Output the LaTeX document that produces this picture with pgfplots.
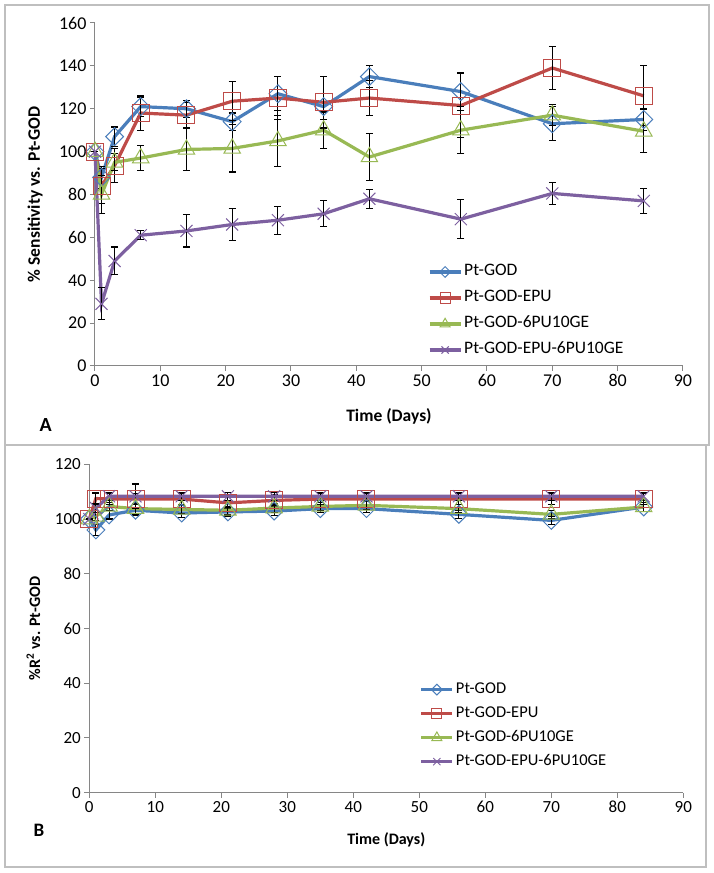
\documentclass[border=0pt]{standalone}
\usepackage{fontspec}
\setmainfont{Carlito}
\usepackage{pgfplots}
\pgfplotsset{compat=1.18}
\definecolor{cblue}{HTML}{4A7EBB}
\definecolor{cred}{HTML}{BE4B48}
\definecolor{cgreen}{HTML}{98B954}
\definecolor{cpurple}{HTML}{7D60A0}
\definecolor{axgray}{HTML}{868686}
\definecolor{framegray}{HTML}{BFBFBF}

\pgfplotsset{
  excel/.style={
    scale only axis, xmin=0, xmax=90, xtick distance=10, ymin=0,
    axis x line=bottom, axis y line=left,
    axis line style={-, draw=axgray, line width=1pt},
    tick align=outside, major tick length=5pt,
    tick style={draw=axgray, line width=1pt},
    /pgf/number format/assume math mode=true,
    clip=false,
    legend cell align=left,
    error bars/y dir=both, error bars/y explicit,
    error bars/error bar style={black, line width=1.1pt, solid},
    error bars/error mark options={black, line width=1.1pt, mark size=3.5pt, rotate=90},
    legend image code/.code={\draw[/tikz/every mark/.append style={scale=0.6}, mark repeat=2, mark phase=2] plot coordinates {(0pt,0pt)(15.5pt,0pt)(31pt,0pt)};},
  },
  sblue/.style={color=cblue, line width=3.2pt, mark=square, mark size=6.3pt, mark options={rotate=45, line width=1pt, solid}},
  sred/.style={color=cred, line width=3.2pt, mark=square, mark size=8.5pt, mark options={line width=1pt, solid}},
  sgreen/.style={color=cgreen, line width=3.2pt, mark=triangle, mark size=9.5pt, mark options={line width=1pt, solid}},
  spurple/.style={color=cpurple, line width=3.2pt, mark=x, mark size=8.5pt, mark options={line width=1pt, solid}},
}

\begin{document}
\begin{tikzpicture}
\useasboundingbox (0pt,0pt) rectangle (714pt,873pt);
\draw[framegray, line width=2pt] (5pt,428pt) rectangle (709pt,868pt);
\draw[framegray, line width=2pt] (5pt,6pt) rectangle (706pt,428pt);

% Panel A
\begin{axis}[excel, at={(95pt,507pt)}, anchor=south west, width=588pt, height=343pt,
  ymax=160, ytick distance=20,
  ticklabel style={font=\fontsize{18}{20}\selectfont},
  xlabel={\textbf{Time (Days)}},
  ylabel={\textbf{\% Sensitivity vs. Pt-GOD}},
  label style={font=\fontsize{17.5}{20}\selectfont},
  xlabel style={at={(axis description cs:0.5,0)}, anchor=center, yshift=-50.7pt},
  ylabel style={at={(axis description cs:0,0.5)}, anchor=center, yshift=60pt},
  legend style={draw=none, fill=none, at={(rel axis cs:0.566,0.298)}, anchor=north west,
    font=\fontsize{17.5}{20}\selectfont, row sep=10pt, inner sep=0pt,
    nodes={inner ysep=0pt, inner xsep=2pt, text height=12pt, text depth=4pt}},
]
\addplot[sblue] coordinates {
 (0,100) +- (0,0) (1,88) +- (0,5) (3,107) +- (0,4.5) (7,121) +- (0,4.5) (14,120) +- (0,4)
 (21,114) +- (0,4) (28,127) +- (0,8) (35,121) +- (0,6) (42,135) +- (0,5) (56,128) +- (0,9)
 (70,113) +- (0,8) (84,115) +- (0,5)};
\addplot[sred] coordinates {
 (0,100) +- (0,0) (1,84) +- (0,8) (3,93.5) +- (0,8) (7,118) +- (0,8) (14,117) +- (0,6)
 (21,123.5) +- (0,9) (28,125) +- (0,10) (35,123) +- (0,12) (42,125) +- (0,8) (56,121.5) +- (0,15)
 (70,139) +- (0,10) (84,126) +- (0,14)};
\addplot[sgreen] coordinates {
 (0,100) +- (0,0) (1,80) +- (0,9) (3,95) +- (0,4) (7,97) +- (0,6) (14,101) +- (0,10)
 (21,101.5) +- (0,11) (28,105) +- (0,12) (35,110) +- (0,8.5) (42,97.5) +- (0,11) (56,110) +- (0,11)
 (70,117) +- (0,5) (84,109.5) +- (0,10)};
\addplot[spurple] coordinates {
 (0,100) +- (0,0) (1,29) +- (0,7.5) (3,49) +- (0,6.5) (7,61) +- (0,2) (14,63) +- (0,7.5)
 (21,66) +- (0,7.5) (28,68) +- (0,6.5) (35,71) +- (0,6) (42,78) +- (0,4.5) (56,68.5) +- (0,9)
 (70,80.5) +- (0,5) (84,77) +- (0,6)};
\legend{Pt-GOD, Pt-GOD-EPU, Pt-GOD-6PU10GE, Pt-GOD-EPU-6PU10GE}
\end{axis}
\node[font=\fontsize{20}{22}\selectfont\bfseries] at (45.8pt,448pt) {A};

% Panel B
\begin{axis}[excel, at={(89.3pt,80.3pt)}, anchor=south west, width=594pt, height=328.4pt,
  ymax=120, ytick distance=20,
  ticklabel style={font=\fontsize{17}{19}\selectfont},
  xlabel={\textbf{Time (Days)}},
  ylabel={\textbf{\%R\textsuperscript{2} vs. Pt-GOD}},
  label style={font=\fontsize{16}{18}\selectfont},
  xlabel style={at={(axis description cs:0.5,0)}, anchor=center, yshift=-47pt},
  ylabel style={at={(axis description cs:0,0.5)}, anchor=center, yshift=56pt},
  legend style={draw=none, fill=none, at={(rel axis cs:0.556,0.338)}, anchor=north west,
    font=\fontsize{16.5}{18}\selectfont, row sep=8.5pt, inner sep=0pt,
    nodes={inner ysep=0pt, inner xsep=2pt, text height=11.5pt, text depth=4pt}},
]
\addplot[sblue] coordinates {
 (0,100) +- (0,0) (1,96) +- (0,2) (3,101.5) +- (0,1.5) (7,103.2) +- (0,2) (14,102.2) +- (0,1.5)
 (21,102.6) +- (0,1.5) (28,102.9) +- (0,1.5) (35,103.8) +- (0,1.5) (42,103.8) +- (0,1.5) (56,101.7) +- (0,1.5)
 (70,99.5) +- (0,1.5) (84,104.4) +- (0,1.5)};
\addplot[sred] coordinates {
 (0,100) +- (0,0) (1,107.5) +- (0,2) (3,107.3) +- (0,2) (7,107.3) +- (0,2) (14,107.3) +- (0,2)
 (21,105.9) +- (0,2) (28,106.8) +- (0,2) (35,107.3) +- (0,2) (42,107.3) +- (0,2) (56,107.3) +- (0,2)
 (70,107.3) +- (0,2) (84,107.3) +- (0,2)};
\addplot[sgreen] coordinates {
 (0,100) +- (0,0) (1,101) +- (0,1.5) (3,104.6) +- (0,1.5) (7,103.8) +- (0,2) (14,103.5) +- (0,1.5)
 (21,103.2) +- (0,1.5) (28,104) +- (0,1.5) (35,104.6) +- (0,1.5) (42,105) +- (0,1.5) (56,103.8) +- (0,1.5)
 (70,101.7) +- (0,1.5) (84,104.4) +- (0,1.5)};
\addplot[spurple] coordinates {
 (0,100) +- (0,0) (1,104) +- (0,1.5) (3,108.3) +- (0,1.5) (7,108.3) +- (0,4.5) (14,108.3) +- (0,1.5)
 (21,108.3) +- (0,1.5) (28,108.3) +- (0,1.5) (35,108.3) +- (0,1.5) (42,108.3) +- (0,1.5) (56,108.3) +- (0,1.5)
 (70,108.3) +- (0,1.5) (84,108.3) +- (0,1.5)};
\legend{Pt-GOD, Pt-GOD-EPU, Pt-GOD-6PU10GE, Pt-GOD-EPU-6PU10GE}
\end{axis}
\node[font=\fontsize{19}{21}\selectfont\bfseries] at (39pt,43pt) {B};
\end{tikzpicture}
\end{document}
